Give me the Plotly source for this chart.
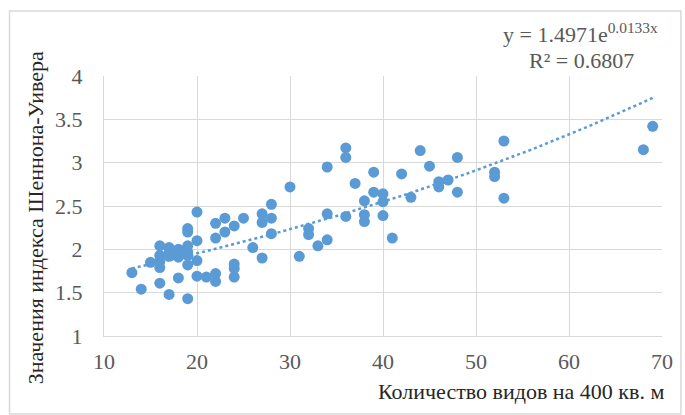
import numpy as np
import plotly.graph_objects as go

# Data
species = [13, 14, 15,
           16, 16, 16, 16, 16,
           17, 17, 17, 17,
           18, 18, 18, 18,
           19, 19, 19, 19, 19, 19, 19,
           20, 20, 20, 20,
           21,
           22, 22, 22, 22,
           23, 23,
           24, 24, 24, 24,
           25, 26,
           27, 27, 27,
           28, 28, 28,
           30, 31, 32, 32, 33,
           34, 34, 34,
           36, 36, 36, 37,
           38, 38, 38,
           39, 39,
           40, 40, 40,
           41, 42, 43, 44, 45,
           46, 46, 47, 48, 48,
           52, 52, 53, 53,
           68, 69]
shannon = [1.73, 1.54, 1.85,
           2.04, 1.93, 1.86, 1.79, 1.61,
           2.02, 1.96, 1.92, 1.48,
           2.00, 1.95, 1.91, 1.67,
           2.24, 2.20, 2.04, 1.97, 1.93, 1.82, 1.43,
           2.43, 2.10, 1.87, 1.69,
           1.68,
           2.30, 2.13, 1.72, 1.63,
           2.36, 2.20,
           2.27, 1.83, 1.78, 1.68,
           2.36, 2.02,
           2.41, 2.31, 1.90,
           2.52, 2.36, 2.18,
           2.72, 1.92, 2.24, 2.17, 2.04,
           2.95, 2.41, 2.11,
           3.17, 3.06, 2.38, 2.76,
           2.56, 2.40, 2.32,
           2.89, 2.66,
           2.64, 2.55, 2.39,
           2.13, 2.87, 2.60, 3.14, 2.96,
           2.78, 2.72, 2.80, 3.06, 2.66,
           2.89, 2.84, 3.25, 2.59,
           3.15, 3.42]

# Trendline coefficients shown on the chart: y = a * exp(b x)
trend_a = 1.4971
trend_b = 0.0133
trend_x = np.linspace(min(species), max(species), 120)
trend_y = trend_a * np.exp(trend_b * trend_x)

x_ticks = [10, 20, 30, 40, 50, 60, 70]
y_ticks = [1, 1.5, 2, 2.5, 3, 3.5, 4]

W, H = 685, 415
L, R, T, B = 104, 20, 76, 79
PW, PH = W - L - R, H - T - B

def px(x):
    return (x - L) / PW

def py(y):
    return (H - B - y) / PH

BLUE = "#5B9BD5"
TXT = "#595959"
GRID = "#D9D9D9"
FONT = "Liberation Serif"

fig = go.Figure()
fig.add_trace(go.Scatter(x=trend_x, y=trend_y, mode="lines",
                         line=dict(color=BLUE, width=2.5, dash="dot"),
                         hoverinfo="skip", showlegend=False))
fig.add_trace(go.Scatter(x=species, y=shannon, mode="markers",
                         marker=dict(color=BLUE, size=11, line=dict(width=0)),
                         showlegend=False))

fig.update_layout(
    width=W, height=H,
    margin=dict(l=L, r=R, t=T, b=B),
    paper_bgcolor="white", plot_bgcolor="white",
    font=dict(family=FONT, size=22, color=TXT),
    xaxis=dict(range=[10, 70], tickvals=x_ticks, ticktext=[str(v) for v in x_ticks],
               showgrid=True, gridcolor=GRID, gridwidth=1,
               showline=True, linecolor=GRID, linewidth=1, mirror=False,
               zeroline=False, ticks="", ticklabelstandoff=6,
               tickfont=dict(family=FONT, size=22, color=TXT), fixedrange=True),
    yaxis=dict(range=[1, 4], tickvals=y_ticks, ticktext=[f"{v:g}" for v in y_ticks],
               showgrid=True, gridcolor=GRID, gridwidth=1,
               showline=True, linecolor=GRID, linewidth=1,
               zeroline=False, ticks="", ticklabelstandoff=16,
               tickfont=dict(family=FONT, size=22, color=TXT), fixedrange=True),
    shapes=[dict(type="rect", xref="paper", yref="paper",
                 x0=px(9), x1=px(684), y0=py(414), y1=py(11),
                 line=dict(color=GRID, width=1.5), fillcolor="rgba(0,0,0,0)", layer="below")],
    annotations=[
        dict(text="Значения индекса Шеннона-Уивера", xref="paper", yref="paper",
             x=px(35), y=py(218), textangle=-90, showarrow=False,
             font=dict(family=FONT, size=22, color="#262626"), xanchor="center", yanchor="middle"),
        dict(text="Количество видов на 400 кв. м", xref="paper", yref="paper",
             x=px(669), y=py(391), showarrow=False,
             font=dict(family=FONT, size=22, color="#262626"), xanchor="right", yanchor="middle"),
        dict(text="y = 1.4971e<sup>0.0133x</sup>", xref="paper", yref="paper",
             x=px(583), y=py(33), showarrow=False,
             font=dict(family=FONT, size=22, color=TXT), xanchor="center", yanchor="middle"),
        dict(text="R² = 0.6807", xref="paper", yref="paper",
             x=px(584), y=py(60), showarrow=False,
             font=dict(family=FONT, size=22, color=TXT), xanchor="center", yanchor="middle"),
    ],
)

fig.write_html("out.html")
